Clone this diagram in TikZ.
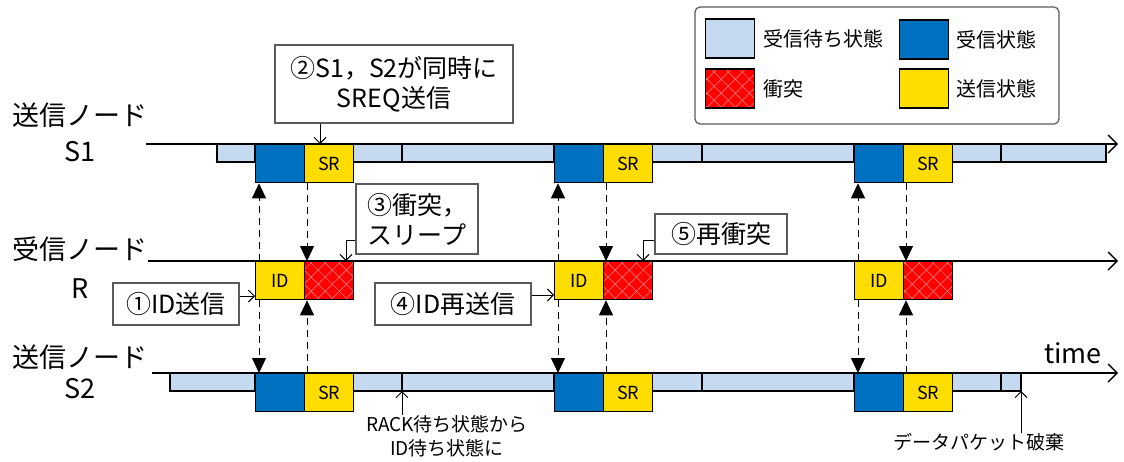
\documentclass[tikz,border=0pt]{standalone}
\usepackage{fontspec}
\setmainfont{Noto Sans CJK JP}
\usetikzlibrary{arrows.meta,patterns.meta}
\definecolor{lblue}{RGB}{197,217,241}
\definecolor{dblue}{RGB}{0,112,192}
\definecolor{yel}{RGB}{255,221,0}
\definecolor{redc}{RGB}{255,0,0}
\definecolor{hatch}{RGB}{255,140,140}
\definecolor{bordergray}{RGB}{90,90,90}
\tikzset{
  cellbase/.style={draw=black, line width=1.3pt, inner sep=0pt, minimum width=49pt, minimum height=38pt, anchor=north west, font=\fontsize{18}{18}\selectfont},
  rxcell/.style={cellbase, fill=dblue},
  txcell/.style={cellbase, fill=yel},
  hatchfill/.style={
    preaction={fill=redc},
    preaction={pattern={Lines[angle=45,distance=10pt,line width=0.5pt]}, pattern color=hatch},
    preaction={pattern={Lines[angle=-45,distance=10pt,line width=0.5pt]}, pattern color=hatch}},
  colcell/.style={cellbase, hatchfill},
  swatch/.style={draw=black, line width=1.2pt, inner sep=0pt, minimum width=49pt, minimum height=39pt},
  lbar/.style={draw=black, line width=1.3pt, fill=lblue},
  tline/.style={draw=black, line width=1.4pt, -{Straight Barb[length=9pt,width=18pt,line width=1.4pt]}},
  darrow/.style={draw=black, line width=1pt, dash pattern=on 7pt off 5pt, -{Triangle[length=15pt,width=14pt]}},
  carrow/.style={draw=black, line width=1pt, -{Straight Barb[length=6pt,width=12pt,line width=1pt]}},
  callout/.style={draw=bordergray, line width=1.1pt, fill=white, align=center, inner sep=0pt, font=\fontsize{25}{30}\selectfont},
  rowlab/.style={inner sep=0pt, font=\fontsize{27}{27}\selectfont},
  legtext/.style={inner sep=0pt, anchor=west, font=\fontsize{20}{20}\selectfont},
  anno/.style={inner sep=0pt, align=center, font=\fontsize{19}{24}\selectfont}
}
\begin{document}
\begin{tikzpicture}[x=1pt,y=-1pt]
\useasboundingbox (0,0) rectangle (1124,461);

% legend
\node[draw=bordergray, line width=1.2pt, rounded corners=5pt, fill=white, minimum width=364pt, minimum height=117pt, inner sep=0pt] (legend) at (877,65.5) {};
\node[swatch, fill=lblue] (lg1) at (730,38.5) {};
\node[legtext] (lgt1) at (763,38.5) {受信待ち状態};
\node[swatch, fill=dblue] (lg2) at (924,39.5) {};
\node[legtext] (lgt2) at (956,39.5) {受信状態};
\node[swatch, hatchfill] (lg3) at (730,88.5) {};
\node[legtext] (lgt3) at (763,88.5) {衝突};
\node[swatch, fill=yel] (lg4) at (924,88.5) {};
\node[legtext] (lgt4) at (956,88.5) {送信状態};

% row labels
\node[rowlab] (s1lab) at (80,115) {送信ノード};
\node[rowlab] (s1name) at (80,152) {S1};
\node[rowlab] (rlab) at (80,249) {受信ノード};
\node[rowlab] (rname) at (80,289) {R};
\node[rowlab] (s2lab) at (80,357) {送信ノード};
\node[rowlab] (s2name) at (80,389) {S2};

% light bars
\foreach \a/\b in {217/255, 353/402, 402/554, 652/702, 702/854, 952/1001, 1001/1106}
  \draw[lbar] (\a,144) rectangle (\b,162);
\foreach \a/\b in {170/255, 353/402, 402/554, 652/702, 702/854, 952/1001, 1001/1021}
  \draw[lbar] (\a,373) rectangle (\b,391);

% time lines
\coordinate (s1a) at (146,144); \coordinate (s1b) at (1118,144);
\coordinate (ra) at (148,261);  \coordinate (rb) at (1118,261);
\coordinate (s2a) at (152,373); \coordinate (s2b) at (1118,373);
\draw[tline] (s1a) -- (s1b);
\draw[tline] (ra) -- (rb);
\draw[tline] (s2a) -- (s2b);

% cells
\foreach \i/\x in {1/255,2/554,3/854}{
  \node[rxcell] (s1rx\i) at (\x,144) {};
  \node[txcell] (s1tx\i) at (\x+49,144) {SR};
  \node[txcell] (rid\i) at (\x,261) {ID};
  \node[colcell] (rcol\i) at (\x+49,261) {};
  \node[rxcell] (s2rx\i) at (\x,373) {};
  \node[txcell] (s2tx\i) at (\x+49,373) {SR};
}

% dashed arrows
\foreach \i in {1,2,3}{
  \draw[darrow] ([xshift=4pt]rid\i.north west) -- ([xshift=4pt]s1rx\i.south west);
  \draw[darrow] ([xshift=4pt]rid\i.south west) -- ([xshift=4pt]s2rx\i.north west);
  \draw[darrow] ([xshift=3pt]s1tx\i.south west) -- ([xshift=3pt]s1tx\i.south west |- rcol\i.north);
  \draw[darrow] ([xshift=3pt]s2tx\i.north west) -- ([xshift=3pt]s2tx\i.north west |- rcol\i.south);
}

% callouts
\node[callout, minimum width=238pt, minimum height=78pt] (c2) at (394,84) {②S1，S2が同時に\\SREQ送信};
\coordinate (c2t) at (320,144);
\draw[carrow] (c2.south -| c2t) -- (c2t);

\node[callout, minimum width=122pt, minimum height=70pt] (c3) at (417,219) {③衝突，\\スリープ};
\coordinate (c3t) at (346,261);
\draw[carrow] ([yshift=14pt]c3.south west) -| (c3t);

\node[callout, minimum width=126pt, minimum height=42pt] (c1) at (176,304) {①ID送信};
\coordinate (c1t) at (255,296);
\draw[carrow] (c1.east |- c1t) -- (c1t);

\node[callout, minimum width=156pt, minimum height=42pt] (c4) at (453,304) {④ID再送信};
\coordinate (c4t) at (554,295);
\draw[carrow] (c4.east |- c4t) -- (c4t);

\node[callout, minimum width=132pt, minimum height=40pt] (c5) at (721,234) {⑤再衝突};
\coordinate (c5t) at (643,261);
\draw[carrow] ([yshift=14pt]c5.south west) -| (c5t);

% annotations
\node[anno] (rack) at (447,436) {RACK待ち状態から\\ID待ち状態に};
\coordinate (racktip) at (402,391);
\draw[carrow] (racktip |- rack.north) -- (racktip);

\node[anno] (disc) at (979,442) {データパケット破棄};
\coordinate (disctip) at (1021,391);
\draw[carrow] (disctip |- disc.north) -- (disctip);

\node[inner sep=0pt, font=\fontsize{27}{27}\selectfont] (timelab) at (1073,353) {time};
\end{tikzpicture}
\end{document}
